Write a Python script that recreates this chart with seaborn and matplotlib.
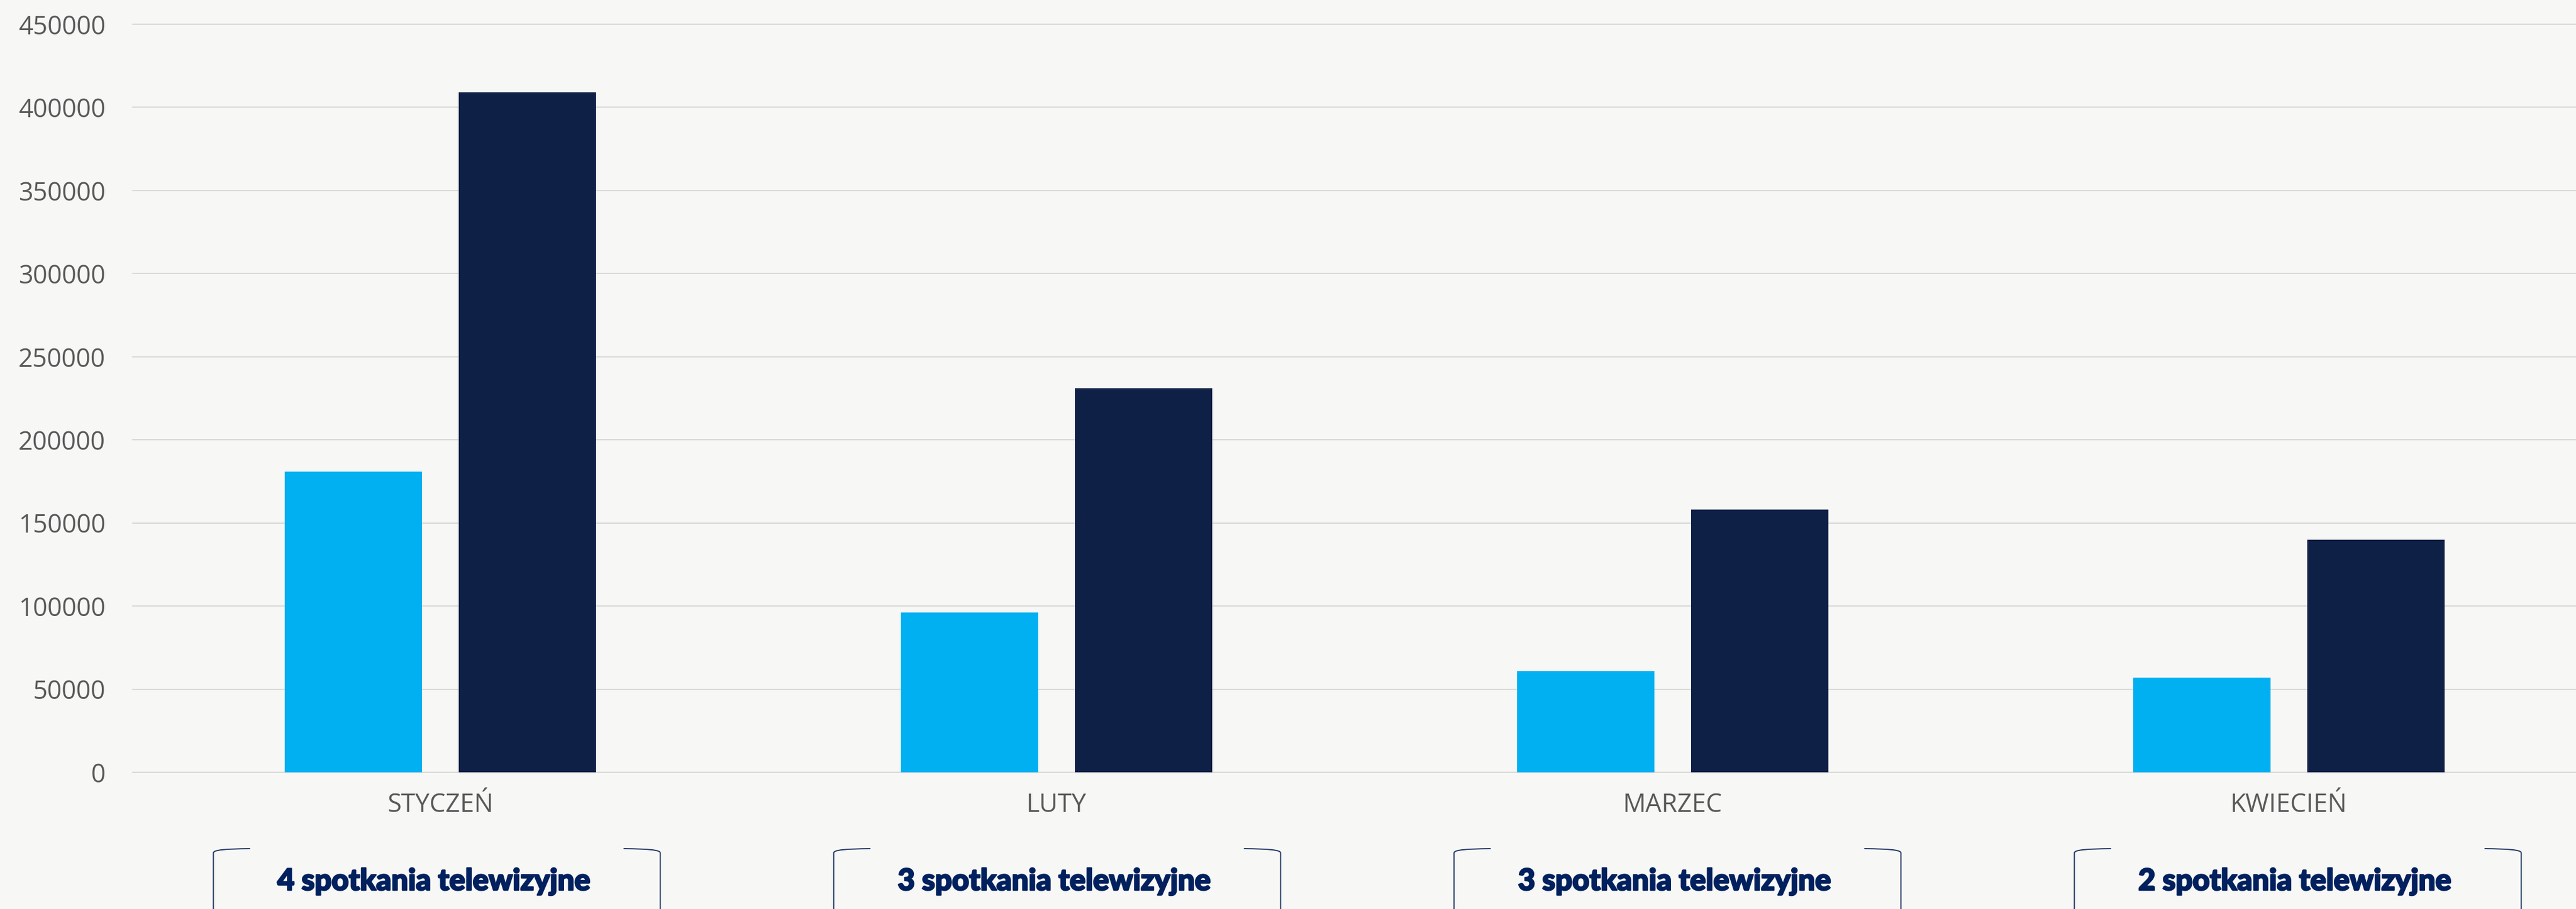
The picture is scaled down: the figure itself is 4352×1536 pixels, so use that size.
import numpy as np
import pandas as pd
import matplotlib
matplotlib.use("Agg")
import matplotlib.pyplot as plt
import matplotlib.patheffects as pe
import seaborn as sns
from matplotlib.path import Path
from matplotlib.patches import PathPatch
from matplotlib.transforms import blended_transform_factory
from matplotlib.ticker import FuncFormatter

# ---------------- data ----------------
months = ["STYCZEŃ", "LUTY", "MARZEC", "KWIECIEŃ"]
series_names = ["Seria 1", "Seria 2"]
values_light = [181000, 96000, 61000, 57000]
values_dark = [409000, 231000, 158000, 140000]
meetings = ["4 spotkania telewizyjne", "3 spotkania telewizyjne",
            "3 spotkania telewizyjne", "2 spotkania telewizyjne"]
y_ticks = [0, 50000, 100000, 150000, 200000, 250000, 300000, 350000, 400000, 450000]

df = pd.DataFrame({
    "miesiac": months + months,
    "seria": [series_names[0]] * len(months) + [series_names[1]] * len(months),
    "wartosc": values_light + values_dark,
})

# ---------------- style ----------------
W, H, DPI = 4352, 1536, 200
BG = "#F7F7F5"
LIGHT = "#00B0F0"
DARK = "#0E2046"
GRID = "#D9D9D9"
GRAY = "#595959"
NAVY = "#00205E"
BOXLINE = "#1F3864"

sns.set_theme(style="white")
plt.rcParams["font.family"] = ["Open Sans", "DejaVu Sans"]

fig = plt.figure(figsize=(W / DPI, H / DPI), dpi=DPI, facecolor=BG)
ax_left, ax_bottom_px, ax_top_px = 224, 1305, 41
ax = fig.add_axes([ax_left / W, 1 - ax_bottom_px / H, 1 - ax_left / W, (ax_bottom_px - ax_top_px) / H])
ax.set_facecolor(BG)

sns.barplot(data=df, x="miesiac", y="wartosc", hue="seria", order=months,
            hue_order=series_names, palette=[LIGHT, DARK], width=0.565, gap=0.21,
            saturation=1, legend=False, ax=ax, zorder=3, linewidth=0)

px_per_cat = 1041.0
ax.set_xlim(-(744 - ax_left) / px_per_cat, (W - 744) / px_per_cat)
ax.set_ylim(0, 450000)
ax.set_yticks(y_ticks)
ax.yaxis.set_major_formatter(FuncFormatter(lambda v, p: f"{int(v)}"))
ax.set_axisbelow(True)
ax.yaxis.grid(True, color=GRID, linewidth=0.75)
ax.xaxis.grid(False)
for gl in ax.get_ygridlines():
    gl.set_clip_on(False)
for s in ax.spines.values():
    s.set_visible(False)
ax.set_xlabel("")
ax.set_ylabel("")
ax.tick_params(axis="both", length=0, labelsize=15.5, labelcolor=GRAY)
ax.tick_params(axis="y", pad=16.5)
ax.tick_params(axis="x", pad=12)

# ---------------- bracket boxes with meeting counts ----------------
trans = blended_transform_factory(ax.transData, fig.transFigure)
def fy(px):
    return 1 - px / H
def dx(px):
    return px / px_per_cat
def x_of_px(px):
    return (px - 744) / px_per_cat

half_w = dx(755 / 2)
box_centers = [x_of_px(738 + i * 1048) for i in range(len(meetings))]
for cx in box_centers:
    xl, xr = cx - half_w, cx + half_w
    for side in (-1, 1):
        x0 = xl if side == -1 else xr
        s = -side  # direction inward
        verts = [(x0 + s * dx(62), fy(1434)),
                 (x0 + s * dx(20), fy(1434.5)),
                 (x0 + s * dx(1), fy(1436)),
                 (x0, fy(1441)),
                 (x0, fy(1600))]
        codes = [Path.MOVETO, Path.CURVE4, Path.CURVE4, Path.CURVE4, Path.LINETO]
        patch = PathPatch(Path(verts, codes), transform=trans, fill=False,
                          edgecolor=BOXLINE, linewidth=0.7, clip_on=False)
        ax.add_artist(patch)

texts = []
for cx, label in zip(box_centers, meetings):
    t = ax.text(cx - dx(5), fy(1504), label, transform=trans, ha="center", va="baseline",
                fontsize=17, fontweight="black", color=NAVY,
                family=["Lato", "DejaVu Sans"], clip_on=False,
                path_effects=[pe.withStroke(linewidth=0.9, foreground=NAVY)])
    texts.append(t)

fig.canvas.draw()
r = fig.canvas.get_renderer()
w0 = texts[0].get_window_extent(renderer=r).width
scale = 530.0 / w0
for t in texts:
    t.set_fontsize(17 * scale)

fig.savefig("out.png", dpi=DPI, facecolor=BG)
